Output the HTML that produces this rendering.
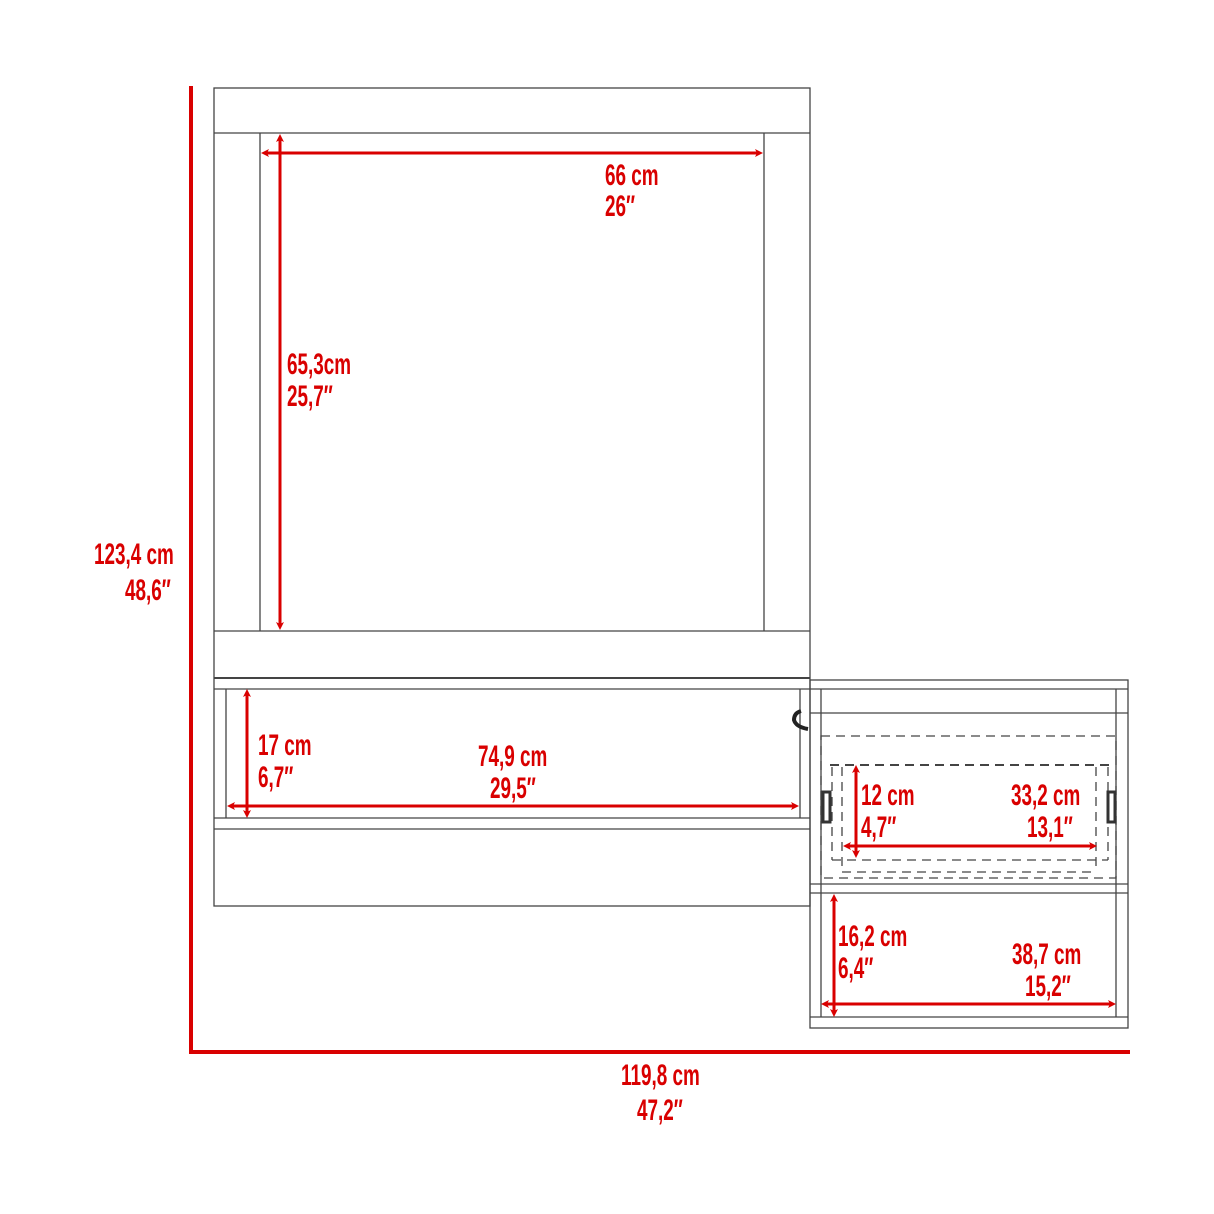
<!DOCTYPE html>
<html><head><meta charset="utf-8"><style>
html,body{margin:0;padding:0;background:#fff;}
svg{display:block}
text{font-family:"Liberation Sans",sans-serif;font-size:30px;font-weight:bold;fill:#d90000;}
</style></head><body>
<svg width="1214" height="1214" viewBox="0 0 1214 1214" xmlns="http://www.w3.org/2000/svg">
<defs>
<marker id="a" markerWidth="8" markerHeight="8" refX="5" refY="4" orient="auto-start-reverse" markerUnits="userSpaceOnUse"><path d="M0,0 L8,4 L0,8 L2,4 Z" fill="#d90000"/></marker>
</defs>
<g fill="none" stroke="#444" stroke-width="1.3">
<rect x="214" y="88" width="596" height="818"/>
<line x1="214" y1="133" x2="810" y2="133"/>
<line x1="260" y1="133" x2="260" y2="631"/>
<line x1="764" y1="133" x2="764" y2="631"/>
<line x1="214" y1="631" x2="810" y2="631"/>
<line x1="214" y1="678" x2="810" y2="678" stroke-width="2"/>
<line x1="214" y1="689" x2="810" y2="689"/>
<line x1="226" y1="689" x2="226" y2="818"/>
<line x1="214" y1="818" x2="810" y2="818"/>
<line x1="214" y1="829" x2="810" y2="829"/>
<line x1="800" y1="689" x2="800" y2="818"/>
<rect x="810" y="680" width="318" height="348"/>
<line x1="810" y1="689" x2="1128" y2="689"/>
<line x1="821" y1="689" x2="821" y2="1017"/>
<line x1="1116" y1="689" x2="1116" y2="1017"/>
<line x1="810" y1="713" x2="1128" y2="713"/>
<line x1="810" y1="884" x2="1128" y2="884"/>
<line x1="810" y1="893" x2="1128" y2="893"/>
<line x1="810" y1="1017" x2="1128" y2="1017"/>
<g stroke-dasharray="9,6">
<rect x="821" y="736" width="295" height="142"/>
<line x1="830" y1="765" x2="1112" y2="765" stroke-width="2"/>
<line x1="842" y1="767" x2="842" y2="872"/>
<line x1="1096" y1="767" x2="1096" y2="872"/>
<line x1="842" y1="872" x2="1096" y2="872"/>
<line x1="832" y1="860" x2="1108" y2="860"/>
<line x1="832" y1="767" x2="832" y2="860"/>
<line x1="1108" y1="767" x2="1108" y2="860"/>
</g>
</g>
<rect x="823" y="792" width="7" height="30" fill="none" stroke="#333" stroke-width="3"/>
<rect x="1108" y="792" width="7" height="30" fill="none" stroke="#333" stroke-width="3"/>
<path d="M801,711 Q794,713 794,720 Q796,727 808,729" fill="none" stroke="#222" stroke-width="4"/>
<g stroke="#d90000" stroke-width="4" fill="none">
<line x1="191" y1="86" x2="191" y2="1052"/>
<line x1="189" y1="1052" x2="1130" y2="1052"/>
</g>
<g stroke="#d90000" stroke-width="3" fill="none" marker-start="url(#a)" marker-end="url(#a)">
<line x1="264" y1="153" x2="760" y2="153"/>
<line x1="280" y1="137" x2="280" y2="627"/>
<line x1="247" y1="692" x2="247" y2="815"/>
<line x1="230" y1="806" x2="796" y2="806"/>
<line x1="856" y1="768" x2="856" y2="855"/>
<line x1="846" y1="846" x2="1094" y2="846"/>
<line x1="834" y1="897" x2="834" y2="1014"/>
<line x1="824" y1="1004" x2="1113" y2="1004"/>
</g>
<g>
<text transform="translate(605,185) scale(0.63,1)">66 cm</text>
<text transform="translate(605,216) scale(0.63,1)">26″</text>
<text transform="translate(287,374) scale(0.63,1)">65,3cm</text>
<text transform="translate(287,406) scale(0.63,1)">25,7″</text>
<text transform="translate(94,564) scale(0.63,1)">123,4 cm</text>
<text transform="translate(125,600) scale(0.63,1)">48,6″</text>
<text transform="translate(258,755) scale(0.63,1)">17 cm</text>
<text transform="translate(258,787) scale(0.63,1)">6,7″</text>
<text transform="translate(478,766) scale(0.63,1)">74,9 cm</text>
<text transform="translate(490,798) scale(0.63,1)">29,5″</text>
<text transform="translate(861,805) scale(0.63,1)">12 cm</text>
<text transform="translate(861,837) scale(0.63,1)">4,7″</text>
<text transform="translate(1011,805) scale(0.63,1)">33,2 cm</text>
<text transform="translate(1027,837) scale(0.63,1)">13,1″</text>
<text transform="translate(838,946) scale(0.63,1)">16,2 cm</text>
<text transform="translate(838,978) scale(0.63,1)">6,4″</text>
<text transform="translate(1012,964) scale(0.63,1)">38,7 cm</text>
<text transform="translate(1025,996) scale(0.63,1)">15,2″</text>
<text transform="translate(621,1085) scale(0.63,1)">119,8 cm</text>
<text transform="translate(637,1120) scale(0.63,1)">47,2″</text>
</g>
</svg>
</body></html>
